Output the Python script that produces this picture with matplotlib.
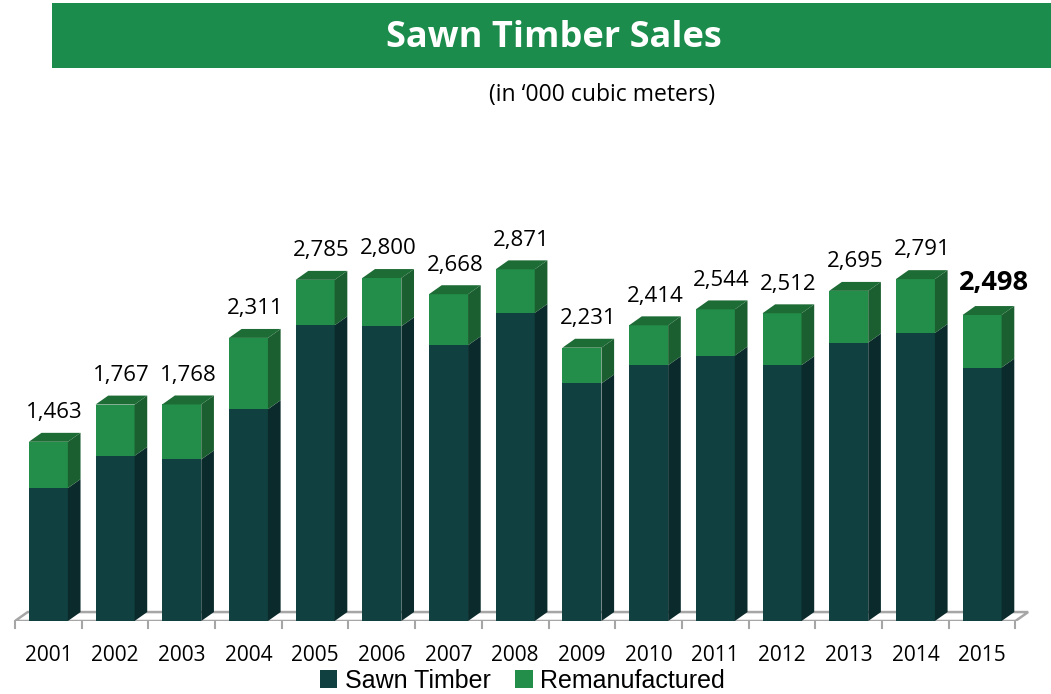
import numpy as np
import matplotlib.pyplot as plt
from matplotlib.patches import Polygon, Rectangle, Patch

# Sales volumes, '000 cubic meters
years = ["2001", "2002", "2003", "2004", "2005", "2006", "2007", "2008",
         "2009", "2010", "2011", "2012", "2013", "2014", "2015"]
sawn = [1085, 1348, 1319, 1729, 2414, 2406, 2251, 2515,
        1939, 2088, 2167, 2088, 2273, 2351, 2069]
totals = [1463, 1767, 1768, 2311, 2785, 2800, 2668, 2871,
          2231, 2414, 2544, 2512, 2695, 2791, 2498]
reman = [t - s for t, s in zip(totals, sawn)]

dark = "#10403F"
dark_side = "#0A2A2B"
green = "#238E49"
green_side = "#1B5E2F"
green_top = "#1D6B35"
floor_col = "#A6A6A6"

fig = plt.figure(figsize=(10.51, 6.94), dpi=100)
fig.patch.set_facecolor("white")

# title banner
fig.patches.append(Rectangle((52 / 1051, 1 - 68 / 694), 1 - 52 / 1051, 65 / 694,
                             transform=fig.transFigure, facecolor="#1B8C4C",
                             edgecolor="none", zorder=0))
fig.text(0.527, 1 - 38 / 694, "Sawn Timber Sales", color="white", fontsize=26,
         fontweight="bold", family="Open Sans", ha="center", va="center")
fig.text(0.573, 1 - 95 / 694, "(in \u2018000 cubic meters)", fontsize=16.5,
         family="Open Sans", ha="center", va="center")

ax = fig.add_axes([15 / 1051, 73 / 694, 1013.8 / 1051, 490 / 694])
ax.set_xlim(-0.5, 14.7)
ax.set_ylim(0, 4000)
for s in ax.spines.values():
    s.set_visible(False)
ax.set_yticks([])

x = np.arange(len(years))
w = 0.585
dx = 0.19
dy = 73

# floor
ax.add_patch(Polygon([(-0.5, 0), (14.5, 0), (14.5 + dx, dy), (-0.5 + dx, dy)],
                     closed=True, facecolor="white", edgecolor=floor_col,
                     lw=1.8, zorder=1))
for xt in np.arange(-0.5, 15, 1.0):
    ax.plot([xt, xt], [0, -57], color=floor_col, lw=1.5, clip_on=False, zorder=1)

ax.bar(x, sawn, width=w, color=dark, zorder=3)
ax.bar(x, reman, width=w, bottom=sawn, color=green, zorder=3)

for xi, s, t in zip(x, sawn, totals):
    xr = xi + w / 2
    xl = xi - w / 2
    ax.add_patch(Polygon([(xr, 0), (xr + dx, dy), (xr + dx, s + dy), (xr, s)],
                         closed=True, facecolor=dark_side, edgecolor="none", zorder=3))
    ax.add_patch(Polygon([(xr, s), (xr + dx, s + dy), (xr + dx, t + dy), (xr, t)],
                         closed=True, facecolor=green_side, edgecolor="none", zorder=3))
    ax.add_patch(Polygon([(xl, t), (xl + dx, t + dy), (xr + dx, t + dy), (xr, t)],
                         closed=True, facecolor=green_top, edgecolor="none", zorder=3))

# value labels, latest year in bold
for i, (xi, t) in enumerate(zip(x, totals)):
    last = i == len(totals) - 1
    ax.annotate(f"{t:,}", (xi + dx / 2 + (0.08 if last else 0), t + dy),
                xytext=(0, 7), textcoords="offset points", ha="center", va="bottom",
                fontsize=19.5 if last else 16, fontweight="bold" if last else "normal",
                family="Open Sans", zorder=5)

ax.set_xticks(x)
ax.set_xticklabels(years, fontsize=15, family="Open Sans")
ax.tick_params(axis="x", length=0, pad=17)

handles = [Patch(facecolor=dark, label="Sawn Timber"),
           Patch(facecolor=green, label="Remanufactured")]
fig.legend(handles=handles, loc="center", bbox_to_anchor=(0.497, 0.019), ncol=2,
           frameon=False, handlelength=0.7, handleheight=0.7, handletextpad=0.3,
           columnspacing=1.0, borderpad=0.1, prop={"family": "Liberation Sans", "size": 18})

fig.savefig("out.png", dpi=100)
